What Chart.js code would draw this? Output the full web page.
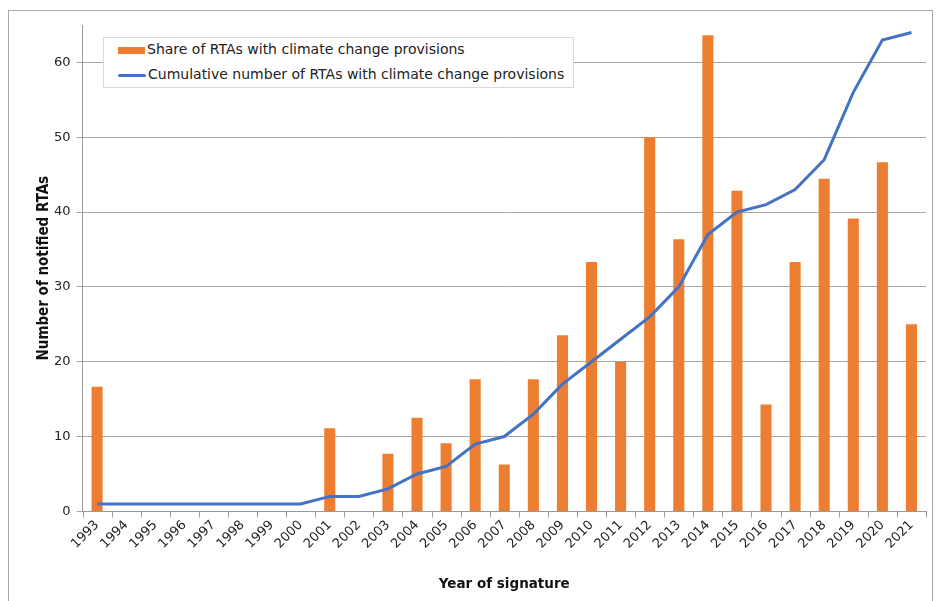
<!DOCTYPE html>
<html>
<head>
<meta charset="utf-8">
<script src="https://cdn.jsdelivr.net/npm/chart.js@4"></script>
<style>
  body { margin: 0; background: #fff; }
  #wrap { position: relative; width: 939px; height: 601px; }
  #frame { position: absolute; left: 8px; top: 10px; width: 925px; height: 600px; border: 1px solid #a6a6a6; box-sizing: border-box; }
  #legend { position: absolute; left: 103px; top: 37px; width: 471px; height: 51px; border: 1px solid #d9d9d9; background: #fff;
            font-family: "DejaVu Sans", Verdana, sans-serif; font-size: 14px; color: #222; box-sizing: border-box; }
  .item { position: absolute; left: 14px; white-space: nowrap; }
  .item span { display: inline-block; vertical-align: middle; margin-right: 2px; }
</style>
</head>
<body>
<div id="wrap">
  <div id="frame"></div>
  <canvas id="chart" width="939" height="601"></canvas>
  <div id="legend">
    <div class="item" style="top:3px"><span style="width:27px;height:7px;background:#ed7d31"></span>Share of RTAs with climate change provisions</div>
    <div class="item" style="top:28px"><span style="width:28px;height:3px;background:#4472c4;border-radius:2px"></span>Cumulative number of RTAs with climate change provisions</div>
  </div>
</div>
<script>
const years = ['1993','1994','1995','1996','1997','1998','1999','2000','2001','2002','2003','2004','2005','2006','2007',
  '2008','2009','2010','2011','2012','2013','2014','2015','2016','2017','2018','2019','2020','2021'];
const sharePct = [16.67, 0, 0, 0, 0, 0, 0, 0, 11.11, 0, 7.69, 12.5, 9.09, 17.65, 6.25,
  17.65, 23.53, 33.33, 20, 50, 36.36, 63.64, 42.86, 14.29, 33.33, 44.44, 39.13, 46.67, 25];
const cumulative = [1, 1, 1, 1, 1, 1, 1, 1, 2, 2, 3, 5, 6, 9, 10,
  13, 17, 20, 23, 26, 30, 37, 40, 41, 43, 47, 56, 63, 64];
const yTicks = [0, 10, 20, 30, 40, 50, 60];

const ctx = document.getElementById('chart').getContext('2d');
new Chart(ctx, {
  type: 'bar',
  data: {
    labels: years,
    datasets: [
      {
        type: 'line',
        label: 'Cumulative number of RTAs with climate change provisions',
        data: cumulative,
        borderColor: '#4472c4',
        borderWidth: 3,
        pointRadius: 0,
        tension: 0,
        order: 0
      },
      {
        label: 'Share of RTAs with climate change provisions',
        data: sharePct,
        backgroundColor: '#ed7d31',
        barPercentage: 0.38,
        categoryPercentage: 1,
        order: 1
      }
    ]
  },
  options: {
    responsive: false,
    animation: false,
    layout: { padding: { left: 35, right: 13, top: 25, bottom: 8 } },
    plugins: { legend: { display: false }, tooltip: { enabled: false } },
    scales: {
      x: {
        offset: true,
        grid: { display: false, offset: true, drawTicks: true, tickLength: 6, color: '#999' },
        border: { color: '#999', width: 1 },
        ticks: { maxRotation: 45, minRotation: 45, color: '#222', font: { family: 'DejaVu Sans', size: 13 }, padding: 0 },
        title: { display: true, text: 'Year of signature', color: '#111', font: { family: 'DejaVu Sans', size: 13.5, weight: 'bold' }, padding: { top: 25, bottom: 0 } }
      },
      y: {
        min: 0,
        max: 65,
        afterBuildTicks: axis => { axis.ticks = yTicks.map(v => ({ value: v })); },
        grid: { color: '#a6a6a6', tickLength: 6 },
        border: { color: '#999' },
        ticks: { color: '#222', font: { family: 'DejaVu Sans', size: 13 }, padding: 6 },
        title: { display: true, text: 'Number of notified RTAs', color: '#111', font: { family: 'DejaVu Sans Condensed', size: 15, weight: 'bold' }, padding: { top: 0, bottom: -5 } }
      }
    }
  },
  plugins: [{
    id: 'xticks',
    afterDraw(chart) {
      // tick marks between categories under the x axis
      const c = chart.ctx, a = chart.chartArea;
      const step = (a.right - a.left) / years.length;
      c.save();
      c.strokeStyle = '#999';
      c.lineWidth = 1;
      for (let i = 0; i <= years.length; i++) {
        const px = Math.round(a.left + i * step) + 0.5;
        c.beginPath(); c.moveTo(px, a.bottom); c.lineTo(px, a.bottom + 6); c.stroke();
      }
      c.restore();
    }
  }]
});
</script>
</body>
</html>
